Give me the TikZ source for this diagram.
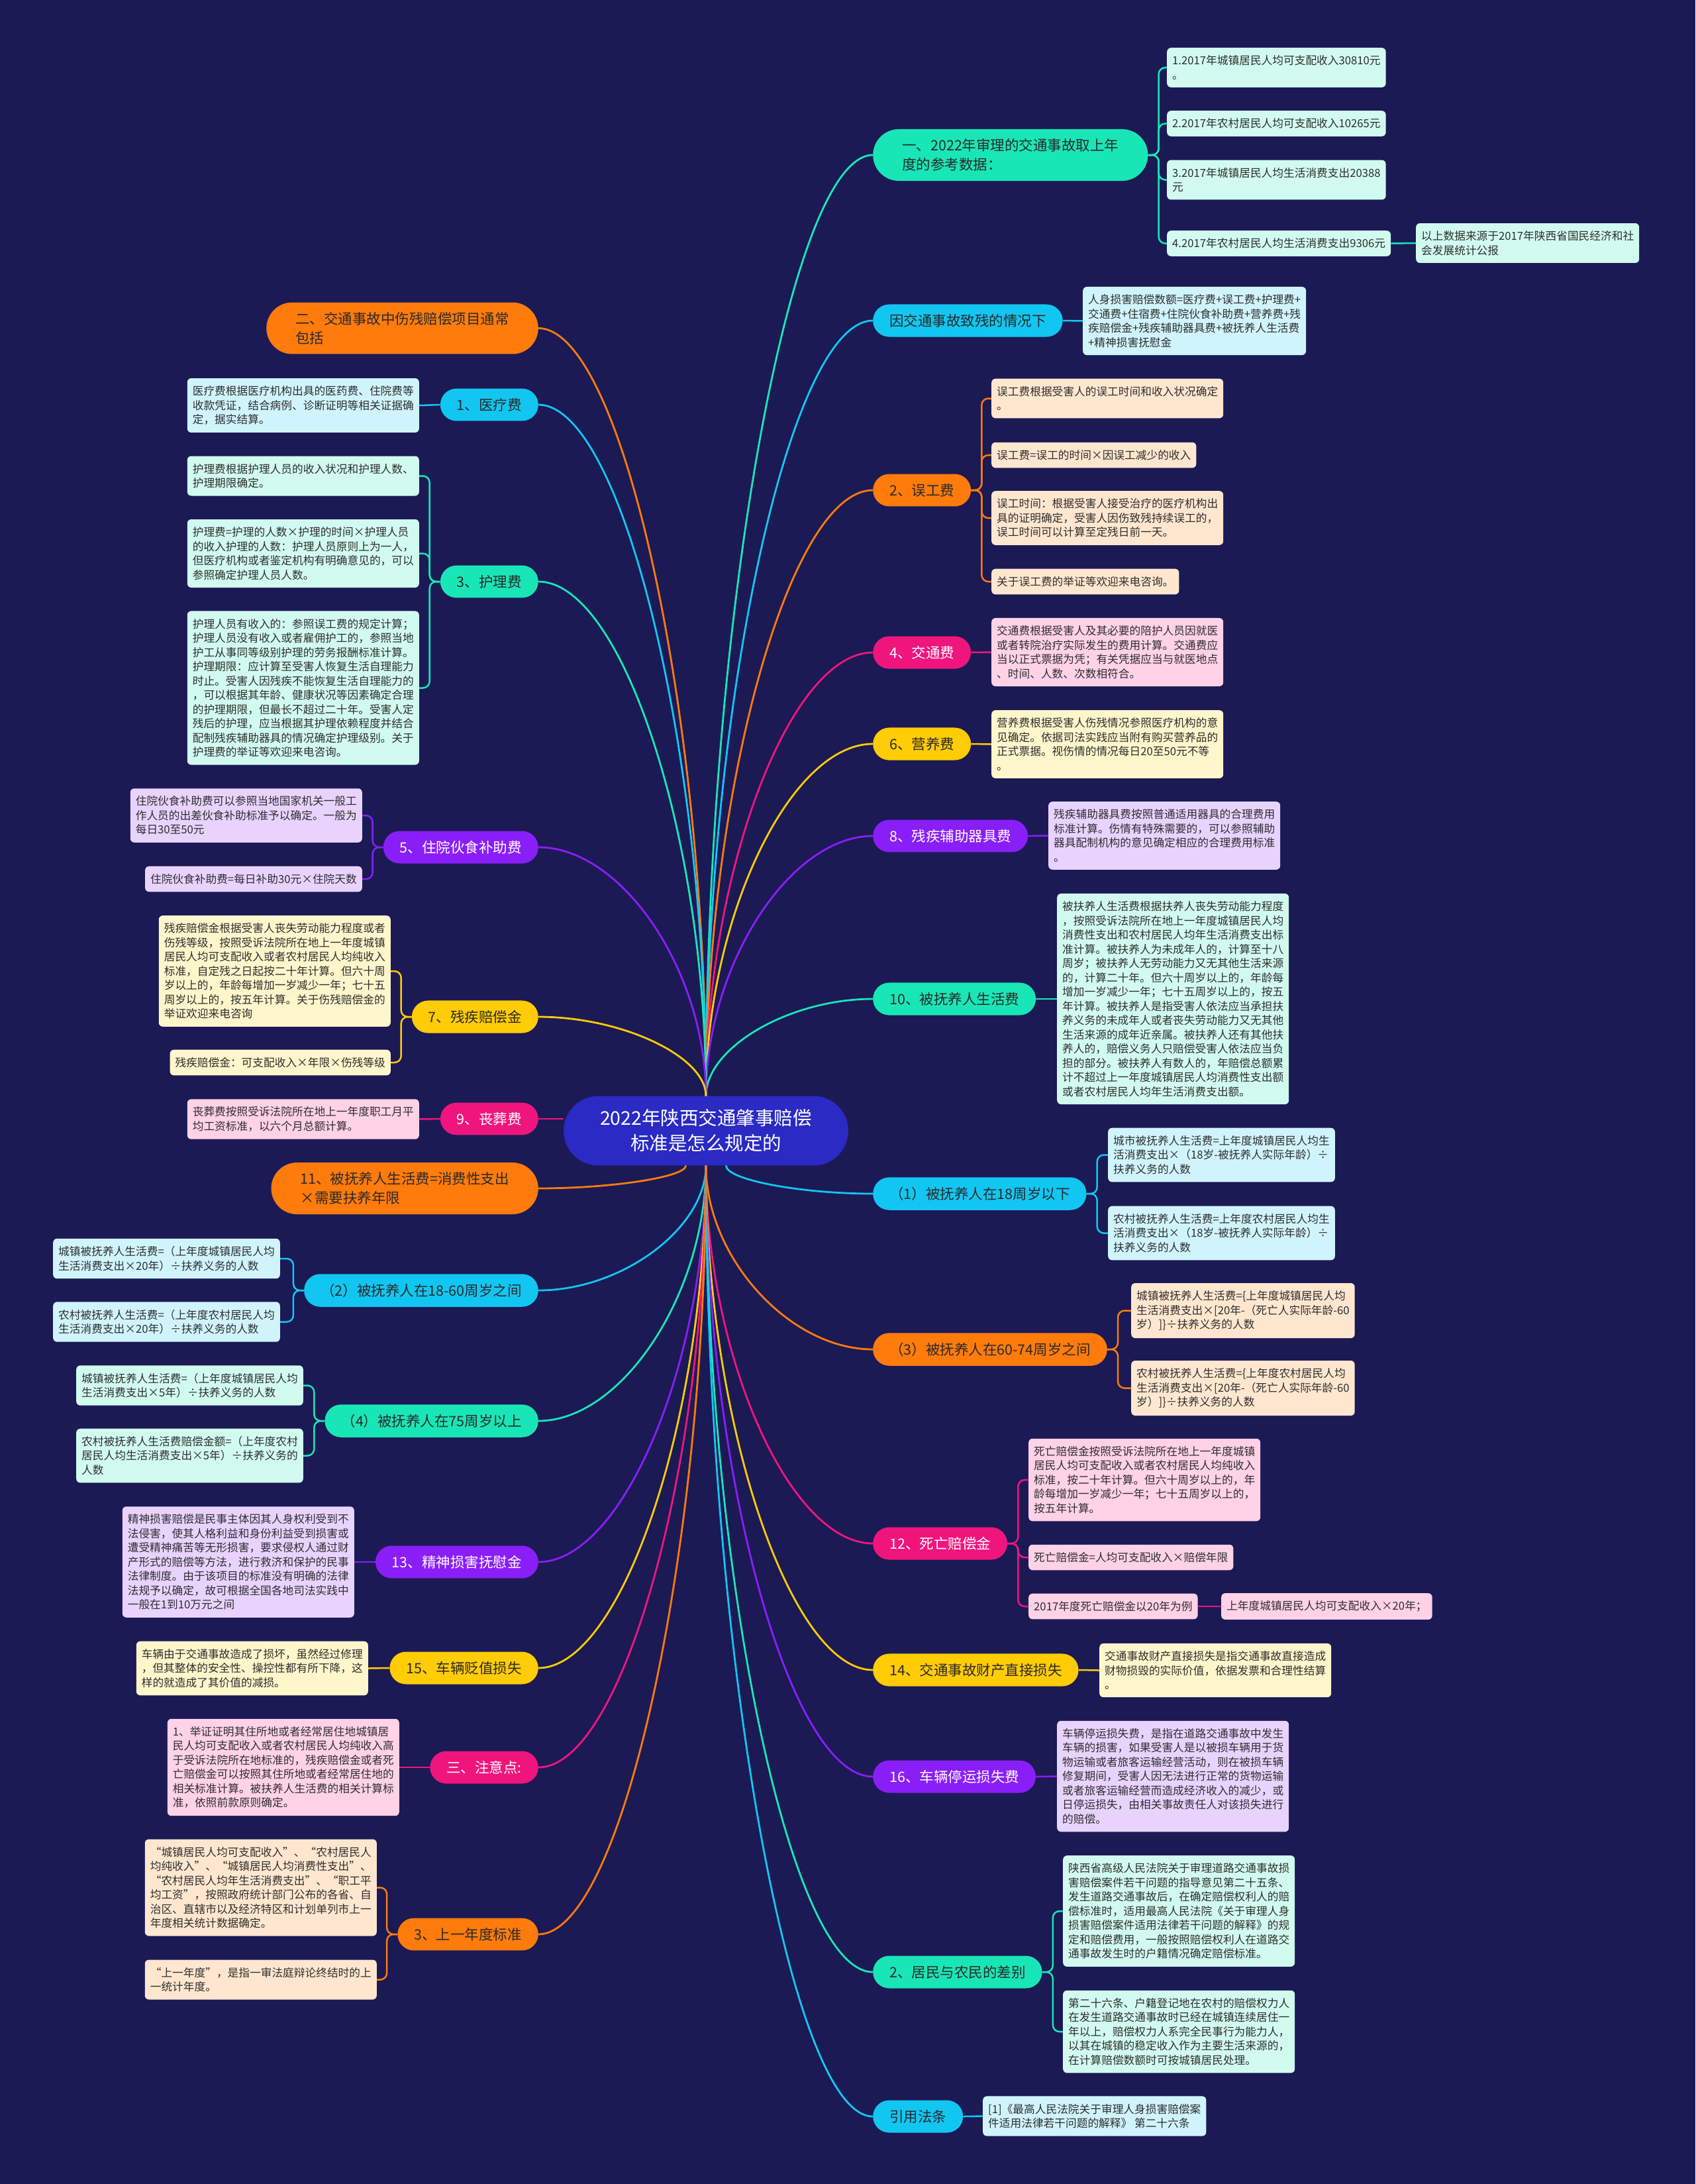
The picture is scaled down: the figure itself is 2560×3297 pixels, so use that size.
\documentclass[tikz,border=0pt]{standalone}
\usepackage{fontspec}
\setmainfont{Noto Sans CJK SC}
\usetikzlibrary{calc}
\definecolor{bgC}{HTML}{1B1A55}
\definecolor{rootC}{HTML}{2B2AC4}
\definecolor{cyanC}{HTML}{12C6F2}
\definecolor{mintC}{HTML}{19E6B6}
\definecolor{orangeC}{HTML}{FF7B0C}
\definecolor{pinkC}{HTML}{F0157D}
\definecolor{yellowC}{HTML}{FFCC05}
\definecolor{purpleC}{HTML}{8A1EF8}
\definecolor{cyanL}{HTML}{D0F4FC}
\definecolor{mintL}{HTML}{D2FBEF}
\definecolor{orangeL}{HTML}{FFE7CF}
\definecolor{pinkL}{HTML}{FFD2E7}
\definecolor{yellowL}{HTML}{FFF6CC}
\definecolor{purpleL}{HTML}{E8D3FF}
\definecolor{darkT}{HTML}{2A2A2A}
\definecolor{leafT}{HTML}{2E2E2E}
\newcommand\rootlink[3]{\draw[conn,#1] (#2) .. controls ($(#2)!0.5!(#2 |- #3)$) and ($(#2 |- #3)!0.5!(#3)$) .. (#3);}
\newcommand\twigR[3]{\draw[twig,#1] (#2.east) -- ++(16,0) |- (#3.west);}
\newcommand\twigL[3]{\draw[twig,#1] (#2.west) -- ++(-16,0) |- (#3.east);}
\begin{document}
\begin{tikzpicture}[x=1pt,y=-1pt,
    rootbox/.style={fill=rootC, rounded corners=52pt, inner xsep=55pt, inner ysep=20pt,
      font=\fontsize{28.5}{38}\selectfont, text=white, align=center},
    pill/.style={rounded corners=24.5pt, inner xsep=25pt, inner ysep=14.5pt,
      font=\fontsize{21.5}{29}\selectfont, text=darkT, align=left},
    pilltwo/.style={pill, rounded corners=39pt, inner xsep=44pt},
    leaf/.style={rounded corners=6pt, inner xsep=8pt, inner ysep=11.5pt,
      font=\fontsize{16.7}{21.5}\selectfont, text=leafT, align=left},
    conn/.style={line width=2.8pt},
    twig/.style={line width=2.5pt, rounded corners=10pt}]
  \useasboundingbox (0,0) rectangle (2560,3297);
  \fill[bgC] (0,0) rectangle (2560,3297);

  \node[rootbox] (root) at (1066,1707) {2022年陕西交通肇事赔偿\\标准是怎么规定的};

  % right side
  \node[pilltwo, fill=mintC, anchor=west] (shuju) at (1318,234) {一、2022年审理的交通事故取上年\\度的参考数据：};
  \node[pill, fill=cyanC, anchor=west] (zhican) at (1318,484) {因交通事故致残的情况下};
  \node[pill, fill=orangeC, anchor=west] (wugong) at (1318,740) {2、误工费};
  \node[pill, fill=pinkC, text=white, anchor=west] (jiaotong) at (1318,985) {4、交通费};
  \node[pill, fill=yellowC, anchor=west] (yingyang) at (1318,1123) {6、营养费};
  \node[pill, fill=purpleC, text=white, anchor=west] (fuju) at (1318,1262) {8、残疾辅助器具费};
  \node[pill, fill=mintC, anchor=west] (fuyang) at (1318,1508) {10、被抚养人生活费};
  \node[pill, fill=cyanC, anchor=west] (under18) at (1318,1802) {（1）被抚养人在18周岁以下};
  \node[pill, fill=orangeC, anchor=west] (age6074) at (1318,2037) {（3）被抚养人在60-74周岁之间};
  \node[pill, fill=pinkC, text=white, anchor=west] (siwang) at (1318,2330) {12、死亡赔偿金};
  \node[pill, fill=yellowC, anchor=west] (caichan) at (1318,2521) {14、交通事故财产直接损失};
  \node[pill, fill=purpleC, text=white, anchor=west] (tingyun) at (1318,2682) {16、车辆停运损失费};
  \node[pill, fill=mintC, anchor=west] (chabie) at (1318,2977) {2、居民与农民的差别};
  \node[pill, fill=cyanC, anchor=west] (fatiao) at (1318,3195) {引用法条};

  \node[leaf, fill=mintL, anchor=west] (shuju1) at (1762,102) {1.2017年城镇居民人均可支配收入30810元\\。};
  \node[leaf, fill=mintL, anchor=west] (shuju2) at (1762,186.5) {2.2017年农村居民人均可支配收入10265元};
  \node[leaf, fill=mintL, anchor=west] (shuju3) at (1762,271.5) {3.2017年城镇居民人均生活消费支出20388\\元};
  \node[leaf, fill=mintL, anchor=west] (shuju4) at (1762,367.5) {4.2017年农村居民人均生活消费支出9306元};
  \node[leaf, fill=mintL, anchor=west] (shuju5) at (2138,367) {以上数据来源于2017年陕西省国民经济和社\\会发展统计公报};
  \node[leaf, fill=cyanL, anchor=west] (zhican1) at (1635,484.5) {人身损害赔偿数额=医疗费+误工费+护理费+\\交通费+住宿费+住院伙食补助费+营养费+残\\疾赔偿金+残疾辅助器具费+被抚养人生活费\\+精神损害抚慰金};
  \node[leaf, fill=orangeL, anchor=west] (wugong1) at (1497,601.5) {误工费根据受害人的误工时间和收入状况确定\\。};
  \node[leaf, fill=orangeL, anchor=west] (wugong2) at (1497,687) {误工费=误工的时间×因误工减少的收入};
  \node[leaf, fill=orangeL, anchor=west] (wugong3) at (1497,782) {误工时间：根据受害人接受治疗的医疗机构出\\具的证明确定，受害人因伤致残持续误工的，\\误工时间可以计算至定残日前一天。};
  \node[leaf, fill=orangeL, anchor=west] (wugong4) at (1497,878) {关于误工费的举证等欢迎来电咨询。};
  \node[leaf, fill=pinkL, anchor=west] (jiaotong1) at (1497,984.5) {交通费根据受害人及其必要的陪护人员因就医\\或者转院治疗实际发生的费用计算。交通费应\\当以正式票据为凭；有关凭据应当与就医地点\\、时间、人数、次数相符合。};
  \node[leaf, fill=yellowL, anchor=west] (yingyang1) at (1497,1123.5) {营养费根据受害人伤残情况参照医疗机构的意\\见确定。依据司法实践应当附有购买营养品的\\正式票据。视伤情的情况每日20至50元不等\\。};
  \node[leaf, fill=purpleL, anchor=west] (fuju1) at (1583,1261.5) {残疾辅助器具费按照普通适用器具的合理费用\\标准计算。伤情有特殊需要的，可以参照辅助\\器具配制机构的意见确定相应的合理费用标准\\。};
  \node[leaf, fill=mintL, anchor=west] (fuyang1) at (1596,1508) {被扶养人生活费根据扶养人丧失劳动能力程度\\，按照受诉法院所在地上一年度城镇居民人均\\消费性支出和农村居民人均年生活消费支出标\\准计算。被扶养人为未成年人的，计算至十八\\周岁；被扶养人无劳动能力又无其他生活来源\\的，计算二十年。但六十周岁以上的，年龄每\\增加一岁减少一年；七十五周岁以上的，按五\\年计算。被扶养人是指受害人依法应当承担扶\\养义务的未成年人或者丧失劳动能力又无其他\\生活来源的成年近亲属。被扶养人还有其他扶\\养人的，赔偿义务人只赔偿受害人依法应当负\\担的部分。被扶养人有数人的，年赔偿总额累\\计不超过上一年度城镇居民人均消费性支出额\\或者农村居民人均年生活消费支出额。};
  \node[leaf, fill=cyanL, anchor=west] (under18a) at (1673,1743.5) {城市被抚养人生活费=上年度城镇居民人均生\\活消费支出×（18岁-被抚养人实际年龄）÷\\扶养义务的人数};
  \node[leaf, fill=cyanL, anchor=west] (under18b) at (1673,1861.5) {农村被抚养人生活费=上年度农村居民人均生\\活消费支出×（18岁-被抚养人实际年龄）÷\\扶养义务的人数};
  \node[leaf, fill=orangeL, anchor=west] (age6074a) at (1708,1978.5) {城镇被抚养人生活费=\{上年度城镇居民人均\\生活消费支出×[20年-（死亡人实际年龄-60\\岁）]\}÷扶养义务的人数};
  \node[leaf, fill=orangeL, anchor=west] (age6074b) at (1708,2095.5) {农村被抚养人生活费=\{上年度农村居民人均\\生活消费支出×[20年-（死亡人实际年龄-60\\岁）]\}÷扶养义务的人数};
  \node[leaf, fill=pinkL, anchor=west] (siwang1) at (1553,2234) {死亡赔偿金按照受诉法院所在地上一年度城镇\\居民人均可支配收入或者农村居民人均纯收入\\标准，按二十年计算。但六十周岁以上的，年\\龄每增加一岁减少一年；七十五周岁以上的，\\按五年计算。};
  \node[leaf, fill=pinkL, anchor=west] (siwang2) at (1553,2351) {死亡赔偿金=人均可支配收入×赔偿年限};
  \node[leaf, fill=pinkL, anchor=west] (siwang3) at (1553,2425) {2017年度死亡赔偿金以20年为例};
  \node[leaf, fill=pinkL, anchor=west] (siwang4) at (1844,2425) {上年度城镇居民人均可支配收入×20年；};
  \node[leaf, fill=yellowL, anchor=west] (caichan1) at (1660,2521.5) {交通事故财产直接损失是指交通事故直接造成\\财物损毁的实际价值，依据发票和合理性结算\\。};
  \node[leaf, fill=purpleL, anchor=west] (tingyun1) at (1596,2681.5) {车辆停运损失费，是指在道路交通事故中发生\\车辆的损害，如果受害人是以被损车辆用于货\\物运输或者旅客运输经营活动，则在被损车辆\\修复期间，受害人因无法进行正常的货物运输\\或者旅客运输经营而造成经济收入的减少，或\\日停运损失，由相关事故责任人对该损失进行\\的赔偿。};
  \node[leaf, fill=mintL, anchor=west] (chabie1) at (1605,2885) {陕西省高级人民法院关于审理道路交通事故损\\害赔偿案件若干问题的指导意见第二十五条、\\发生道路交通事故后，在确定赔偿权利人的赔\\偿标准时，适用最高人民法院《关于审理人身\\损害赔偿案件适用法律若干问题的解释》的规\\定和赔偿费用，一般按照赔偿权利人在道路交\\通事故发生时的户籍情况确定赔偿标准。};
  \node[leaf, fill=mintL, anchor=west] (chabie2) at (1605,3067) {第二十六条、户籍登记地在农村的赔偿权力人\\在发生道路交通事故时已经在城镇连续居住一\\年以上，赔偿权力人系完全民事行为能力人，\\以其在城镇的稳定收入作为主要生活来源的，\\在计算赔偿数额时可按城镇居民处理。};
  \node[leaf, fill=cyanL, anchor=west] (fatiao1) at (1484,3194.5) {[1]《最高人民法院关于审理人身损害赔偿案\\件适用法律若干问题的解释》 第二十六条};

  % left side
  \node[pilltwo, fill=orangeC, anchor=east] (xiangmu) at (813,495.5) {二、交通事故中伤残赔偿项目通常\\包括};
  \node[pill, fill=cyanC, anchor=east] (yiliao) at (813,611) {1、医疗费};
  \node[pill, fill=mintC, anchor=east] (huli) at (813,878) {3、护理费};
  \node[pill, fill=purpleC, text=white, anchor=east] (huoshi) at (813,1279) {5、住院伙食补助费};
  \node[pill, fill=yellowC, anchor=east] (canji) at (813,1535) {7、残疾赔偿金};
  \node[pill, fill=pinkC, text=white, anchor=east] (sangzang) at (813,1689) {9、丧葬费};
  \node[pilltwo, fill=orangeC, anchor=east] (shenghuofei) at (813,1794) {11、被抚养人生活费=消费性支出\\×需要扶养年限};
  \node[pill, fill=cyanC, anchor=east] (age1860) at (813,1948) {（2）被抚养人在18-60周岁之间};
  \node[pill, fill=mintC, anchor=east] (over75) at (813,2145) {（4）被抚养人在75周岁以上};
  \node[pill, fill=purpleC, text=white, anchor=east] (jingshen) at (813,2358) {13、精神损害抚慰金};
  \node[pill, fill=yellowC, anchor=east] (bianzhi) at (813,2518) {15、车辆贬值损失};
  \node[pill, fill=pinkC, text=white, anchor=east] (zhuyi) at (813,2668) {三、注意点:};
  \node[pill, fill=orangeC, anchor=east] (biaozhun) at (813,2920) {3、上一年度标准};

  \node[leaf, fill=cyanL, anchor=east] (yiliao1) at (633,612) {医疗费根据医疗机构出具的医药费、住院费等\\收款凭证，结合病例、诊断证明等相关证据确\\定，据实结算。};
  \node[leaf, fill=mintL, anchor=east] (huli1) at (633,718.5) {护理费根据护理人员的收入状况和护理人数、\\护理期限确定。};
  \node[leaf, fill=mintL, anchor=east] (huli2) at (633,835.5) {护理费=护理的人数×护理的时间×护理人员\\的收入护理的人数：护理人员原则上为一人，\\但医疗机构或者鉴定机构有明确意见的，可以\\参照确定护理人员人数。};
  \node[leaf, fill=mintL, anchor=east] (huli3) at (633,1038.5) {护理人员有收入的：参照误工费的规定计算；\\护理人员没有收入或者雇佣护工的，参照当地\\护工从事同等级别护理的劳务报酬标准计算。\\护理期限：应计算至受害人恢复生活自理能力\\时止。受害人因残疾不能恢复生活自理能力的\\，可以根据其年龄、健康状况等因素确定合理\\的护理期限，但最长不超过二十年。受害人定\\残后的护理，应当根据其护理依赖程度并结合\\配制残疾辅助器具的情况确定护理级别。关于\\护理费的举证等欢迎来电咨询。};
  \node[leaf, fill=purpleL, anchor=east] (huoshi1) at (547,1231) {住院伙食补助费可以参照当地国家机关一般工\\作人员的出差伙食补助标准予以确定。一般为\\每日30至50元};
  \node[leaf, fill=purpleL, anchor=east] (huoshi2) at (547,1327) {住院伙食补助费=每日补助30元×住院天数};
  \node[leaf, fill=yellowL, anchor=east] (canji1) at (590,1466) {残疾赔偿金根据受害人丧失劳动能力程度或者\\伤残等级，按照受诉法院所在地上一年度城镇\\居民人均可支配收入或者农村居民人均纯收入\\标准，自定残之日起按二十年计算。但六十周\\岁以上的，年龄每增加一岁减少一年；七十五\\周岁以上的，按五年计算。关于伤残赔偿金的\\举证欢迎来电咨询};
  \node[leaf, fill=yellowL, anchor=east] (canji2) at (590,1604) {残疾赔偿金：可支配收入×年限×伤残等级};
  \node[leaf, fill=pinkL, anchor=east] (sangzang1) at (633,1689.5) {丧葬费按照受诉法院所在地上一年度职工月平\\均工资标准，以六个月总额计算。};
  \node[leaf, fill=cyanL, anchor=east] (age1860a) at (423,1900) {城镇被抚养人生活费=（上年度城镇居民人均\\生活消费支出×20年）÷扶养义务的人数};
  \node[leaf, fill=cyanL, anchor=east] (age1860b) at (423,1995.5) {农村被抚养人生活费=（上年度农村居民人均\\生活消费支出×20年）÷扶养义务的人数};
  \node[leaf, fill=mintL, anchor=east] (over75a) at (458,2091.5) {城镇被抚养人生活费=（上年度城镇居民人均\\生活消费支出×5年）÷扶养义务的人数};
  \node[leaf, fill=mintL, anchor=east] (over75b) at (458,2197.5) {农村被抚养人生活费赔偿金额=（上年度农村\\居民人均生活消费支出×5年）÷扶养义务的\\人数};
  \node[leaf, fill=purpleL, anchor=east] (jingshen1) at (535,2358) {精神损害赔偿是民事主体因其人身权利受到不\\法侵害，使其人格利益和身份利益受到损害或\\遭受精神痛苦等无形损害，要求侵权人通过财\\产形式的赔偿等方法，进行救济和保护的民事\\法律制度。由于该项目的标准没有明确的法律\\法规予以确定，故可根据全国各地司法实践中\\一般在1到10万元之间};
  \node[leaf, fill=yellowL, anchor=east] (bianzhi1) at (556,2518.5) {车辆由于交通事故造成了损坏，虽然经过修理\\，但其整体的安全性、操控性都有所下降，这\\样的就造成了其价值的减损。};
  \node[leaf, fill=pinkL, anchor=east] (zhuyi1) at (603,2668) {1、举证证明其住所地或者经常居住地城镇居\\民人均可支配收入或者农村居民人均纯收入高\\于受诉法院所在地标准的，残疾赔偿金或者死\\亡赔偿金可以按照其住所地或者经常居住地的\\相关标准计算。被扶养人生活费的相关计算标\\准，依照前款原则确定。};
  \node[leaf, fill=orangeL, anchor=east] (biaozhun1) at (569,2849.5) {“城镇居民人均可支配收入”、“农村居民人\\均纯收入”、“城镇居民人均消费性支出”、\\“农村居民人均年生活消费支出”、“职工平\\均工资”，按照政府统计部门公布的各省、自\\治区、直辖市以及经济特区和计划单列市上一\\年度相关统计数据确定。};
  \node[leaf, fill=orangeL, anchor=east] (biaozhun2) at (569,2988.5) {“上一年度”，是指一审法庭辩论终结时的上\\一统计年度。};

  % root to branches
  \rootlink{mintC}{root.north}{shuju.west}
  \rootlink{cyanC}{root.north}{zhican.west}
  \rootlink{orangeC}{root.north}{wugong.west}
  \rootlink{pinkC}{root.north}{jiaotong.west}
  \rootlink{yellowC}{root.north}{yingyang.west}
  \rootlink{purpleC}{root.north}{fuju.west}
  \rootlink{mintC}{root.north}{fuyang.west}
  \rootlink{cyanC}{root.-60}{under18.west}
  \rootlink{orangeC}{root.south}{age6074.west}
  \rootlink{pinkC}{root.south}{siwang.west}
  \rootlink{yellowC}{root.south}{caichan.west}
  \rootlink{purpleC}{root.south}{tingyun.west}
  \rootlink{mintC}{root.south}{chabie.west}
  \rootlink{cyanC}{root.south}{fatiao.west}
  \rootlink{orangeC}{root.north}{xiangmu.east}
  \rootlink{cyanC}{root.north}{yiliao.east}
  \rootlink{mintC}{root.north}{huli.east}
  \rootlink{purpleC}{root.north}{huoshi.east}
  \rootlink{yellowC}{root.north}{canji.east}
  \draw[conn,pinkC] (sangzang.east) -- (sangzang.east -| root.west);
  \rootlink{orangeC}{root.-120}{shenghuofei.east}
  \rootlink{cyanC}{root.south}{age1860.east}
  \rootlink{mintC}{root.south}{over75.east}
  \rootlink{purpleC}{root.south}{jingshen.east}
  \rootlink{yellowC}{root.south}{bianzhi.east}
  \rootlink{pinkC}{root.south}{zhuyi.east}
  \rootlink{orangeC}{root.south}{biaozhun.east}

  % branches to leaves
  \twigR{mintC}{shuju}{shuju1}
  \twigR{mintC}{shuju}{shuju2}
  \twigR{mintC}{shuju}{shuju3}
  \twigR{mintC}{shuju}{shuju4}
  \draw[twig,mintC] (shuju4.east) -- (shuju5.west);
  \draw[twig,cyanC] (zhican.east) -- (zhican1.west);
  \twigR{orangeC}{wugong}{wugong1}
  \twigR{orangeC}{wugong}{wugong2}
  \twigR{orangeC}{wugong}{wugong3}
  \twigR{orangeC}{wugong}{wugong4}
  \draw[twig,pinkC] (jiaotong.east) -- (jiaotong1.west);
  \draw[twig,yellowC] (yingyang.east) -- (yingyang1.west);
  \draw[twig,purpleC] (fuju.east) -- (fuju1.west);
  \draw[twig,mintC] (fuyang.east) -- (fuyang1.west);
  \twigR{cyanC}{under18}{under18a}
  \twigR{cyanC}{under18}{under18b}
  \twigR{orangeC}{age6074}{age6074a}
  \twigR{orangeC}{age6074}{age6074b}
  \twigR{pinkC}{siwang}{siwang1}
  \twigR{pinkC}{siwang}{siwang2}
  \twigR{pinkC}{siwang}{siwang3}
  \draw[twig,pinkC] (siwang3.east) -- (siwang4.west);
  \draw[twig,yellowC] (caichan.east) -- (caichan1.west);
  \draw[twig,purpleC] (tingyun.east) -- (tingyun1.west);
  \twigR{mintC}{chabie}{chabie1}
  \twigR{mintC}{chabie}{chabie2}
  \draw[twig,cyanC] (fatiao.east) -- (fatiao1.west);

  \draw[twig,cyanC] (yiliao.west) -- (yiliao1.east);
  \twigL{mintC}{huli}{huli1}
  \twigL{mintC}{huli}{huli2}
  \twigL{mintC}{huli}{huli3}
  \twigL{purpleC}{huoshi}{huoshi1}
  \twigL{purpleC}{huoshi}{huoshi2}
  \twigL{yellowC}{canji}{canji1}
  \twigL{yellowC}{canji}{canji2}
  \draw[twig,pinkC] (sangzang.west) -- (sangzang1.east);
  \twigL{cyanC}{age1860}{age1860a}
  \twigL{cyanC}{age1860}{age1860b}
  \twigL{mintC}{over75}{over75a}
  \twigL{mintC}{over75}{over75b}
  \draw[twig,purpleC] (jingshen.west) -- (jingshen1.east);
  \draw[twig,yellowC] (bianzhi.west) -- (bianzhi1.east);
  \draw[twig,pinkC] (zhuyi.west) -- (zhuyi1.east);
  \twigL{orangeC}{biaozhun}{biaozhun1}
  \twigL{orangeC}{biaozhun}{biaozhun2}
\end{tikzpicture}
\end{document}
